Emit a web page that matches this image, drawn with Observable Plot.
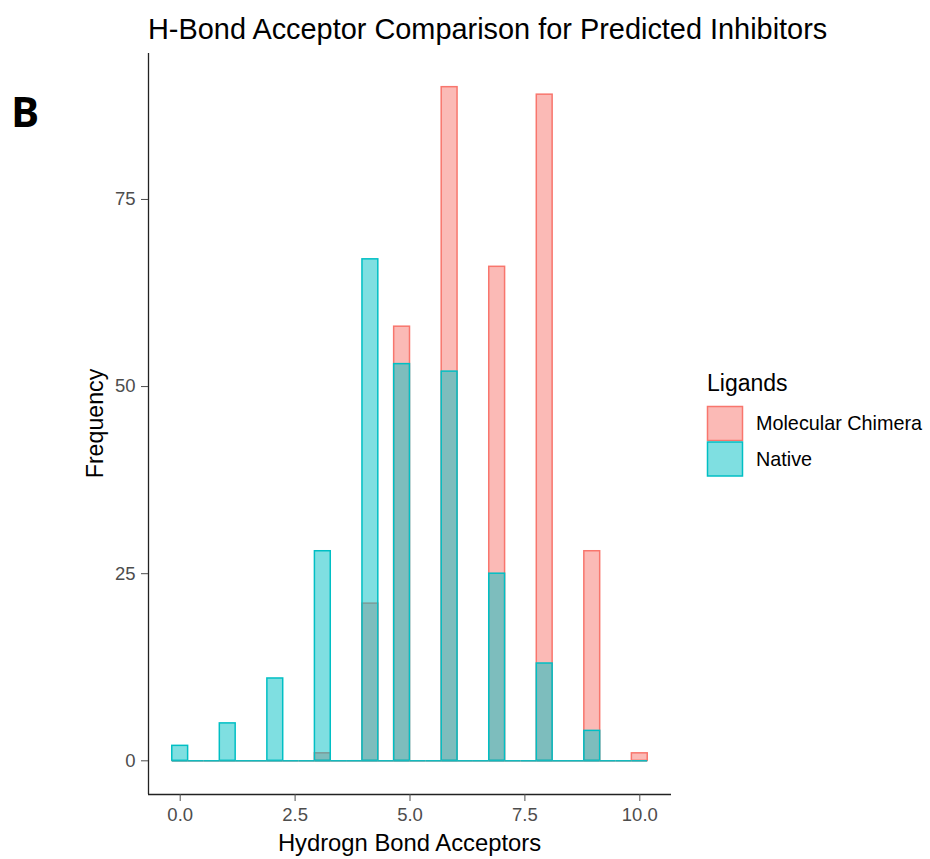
<!DOCTYPE html>
<html>
<head>
<meta charset="utf-8">
<script src="https://cdn.jsdelivr.net/npm/d3@7"></script>
<script src="https://cdn.jsdelivr.net/npm/@observablehq/plot@0.6"></script>
<style>
  html, body { margin: 0; padding: 0; background: #fff; }
  #chart { position: relative; width: 930px; height: 859px; }
  svg { font-family: "Liberation Sans", Arial, sans-serif; }
</style>
</head>
<body>
<div id="chart"></div>
<script>
// ---- data ----
const acceptors = [0, 1, 2, 3, 4, 5, 6, 7, 8, 9, 10];
const chimeraFreq = [0, 0, 0, 1, 21, 58, 90, 66, 89, 28, 1];
const nativeFreq  = [2, 5, 11, 28, 67, 53, 52, 25, 13, 4, 0];
const ligands = ["Molecular Chimera", "Native"];
const ligandColors = ["#F8766D", "#00BFC4"];
const xTicks = [0, 2.5, 5, 7.5, 10];
const yTicks = [0, 25, 50, 75];

// ---- ggplot2-style binning (30 bins, right-closed) ----
const nBins = 30;
const xMin = d3.min(acceptors), xMax = d3.max(acceptors);
const binW = (xMax - xMin) / (nBins - 1);
function ggBins(freqs, ligand) {
  const bins = d3.range(nBins).map(k => ({
    ligand,
    x1: xMin + (k - 0.5) * binW,
    x2: xMin + (k + 0.5) * binW,
    count: 0
  }));
  acceptors.forEach((v, i) => {
    const k = Math.ceil((v - xMin) / binW - 0.5 - 1e-9);
    bins[k].count += freqs[i];
  });
  return bins;
}
const bins = [...ggBins(chimeraFreq, ligands[0]), ...ggBins(nativeFreq, ligands[1])];

// ggplot default expansion: 5% each side
const bx0 = xMin - binW / 2, bx1 = xMax + binW / 2;
const xDomain = [bx0 - 0.05 * (bx1 - bx0), bx1 + 0.05 * (bx1 - bx0)];
const yMaxData = d3.max(bins, d => d.count);
const yDomain = [-0.05 * yMaxData, yMaxData * 1.05];

const plot = Plot.plot({
  width: 930,
  height: 859,
  marginLeft: 148,
  marginRight: 259,
  marginTop: 53,
  marginBottom: 65,
  style: { fontFamily: "Liberation Sans, Arial, sans-serif", background: "#fff" },
  x: { domain: xDomain },
  y: { domain: yDomain },
  color: { domain: ligands, range: ligandColors },
  marks: [
    Plot.rect(bins, { x1: "x1", x2: "x2", y1: 0, y2: "count", fill: "ligand", fillOpacity: 0.5, stroke: "ligand", strokeWidth: 1.5 }),
    Plot.ruleY(bins, { y: 0, x1: "x1", x2: "x2", stroke: "ligand", strokeWidth: 1.5 }),
    Plot.ruleX([xDomain[0]], { stroke: "#222", strokeWidth: 1.3 }),
    Plot.ruleY([yDomain[0]], { stroke: "#222", strokeWidth: 1.3 }),
    Plot.axisX({ ticks: xTicks, tickFormat: d3.format(".1f"), tickSize: 7, tickPadding: 6, fontSize: 18.5, color: "#4D4D4D", label: null }),
    Plot.axisY({ ticks: yTicks, tickSize: 7, tickPadding: 6, fontSize: 18.5, color: "#4D4D4D", label: null })
  ]
});
document.getElementById("chart").appendChild(plot);

const svg = d3.select(plot);
const ff = "Liberation Sans, Arial, sans-serif";
// Title
svg.append("text").attr("x", 148).attr("y", 39).attr("text-anchor", "start").attr("font-size", 28.9).attr("font-family", ff)
  .attr("fill", "#000").text("H-Bond Acceptor Comparison for Predicted Inhibitors");
// Panel letter
svg.append("text").attr("x", 11).attr("y", 127).attr("text-anchor", "start").attr("font-size", 42).attr("font-weight", "bold")
  .attr("font-family", "Open Sans, Liberation Sans, sans-serif").attr("fill", "#000").text("B");
// Axis titles
svg.append("text").attr("x", 409.5).attr("y", 851).attr("text-anchor", "middle").attr("font-size", 23.8)
  .attr("font-family", ff).attr("fill", "#000").text("Hydrogn Bond Acceptors");
svg.append("text").attr("transform", "translate(103,423.5) rotate(-90)").attr("text-anchor", "middle")
  .attr("font-size", 23.2).attr("font-family", ff).attr("fill", "#000").text("Frequency");
// Legend
const lg = svg.append("g").attr("font-family", ff).attr("text-anchor", "start");
lg.append("text").attr("x", 707).attr("y", 391).attr("font-size", 23).attr("fill", "#000").text("Ligands");
ligands.forEach((name, i) => {
  const y0 = 406 + i * 35.5;
  lg.append("rect").attr("x", 707.5).attr("y", y0 + 0.5).attr("width", 35).attr("height", 34)
    .attr("fill", ligandColors[i]).attr("fill-opacity", 0.5).attr("stroke", ligandColors[i]).attr("stroke-width", 1.5);
  lg.append("text").attr("x", 756).attr("y", y0 + 17.5).attr("dy", "0.35em").attr("font-size", 19.8)
    .attr("fill", "#000").text(name);
});
</script>
</body>
</html>
